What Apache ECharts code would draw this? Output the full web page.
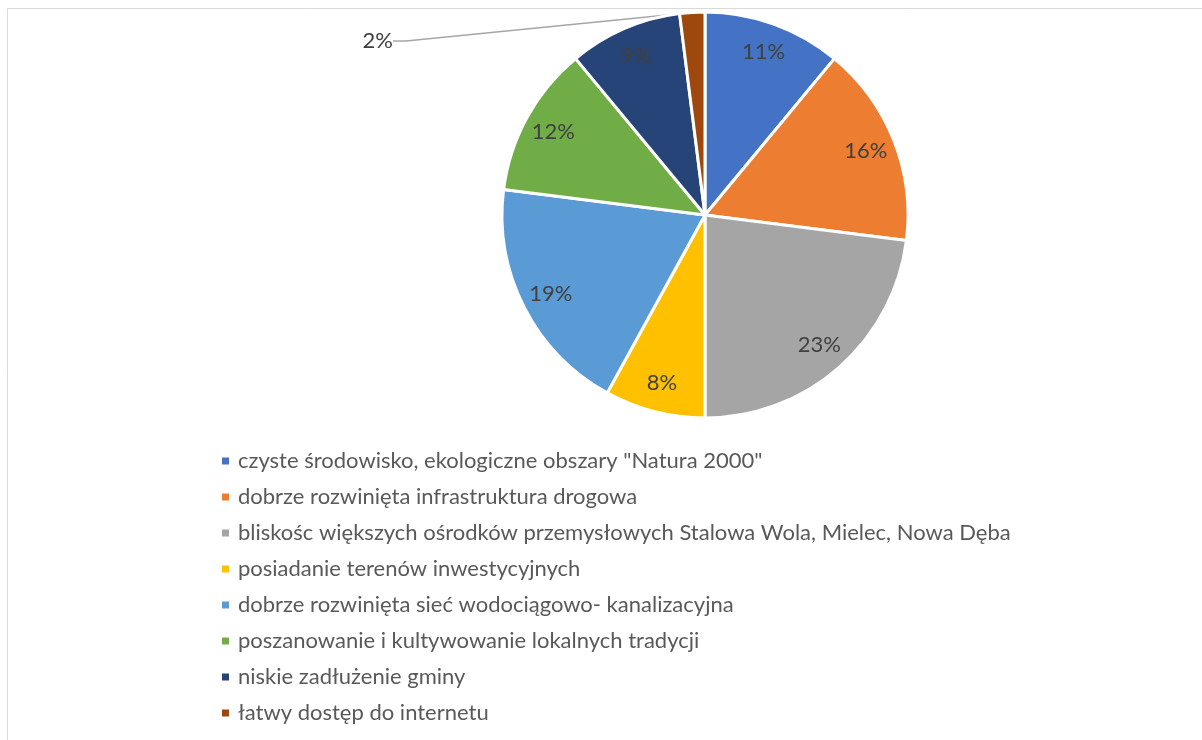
<!DOCTYPE html>
<html>
<head>
<meta charset="utf-8">
<script src="https://cdn.jsdelivr.net/npm/echarts@6/dist/echarts.min.js"></script>
<style>
  html, body { margin: 0; padding: 0; background: #ffffff; }
  #chart { width: 1202px; height: 740px; }
</style>
</head>
<body>
<div id="chart"></div>
<script>
// Atuty gminy – udział wskazań (%)
const categories = [
  'czyste środowisko, ekologiczne obszary "Natura 2000"',
  'dobrze rozwinięta infrastruktura drogowa',
  'bliskośc większych ośrodków przemysłowych Stalowa Wola, Mielec, Nowa Dęba',
  'posiadanie terenów inwestycyjnych',
  'dobrze rozwinięta sieć wodociągowo- kanalizacyjna',
  'poszanowanie i kultywowanie lokalnych tradycji',
  'niskie zadłużenie gminy',
  'łatwy dostęp do internetu'
];
const values = [11, 16, 23, 8, 19, 12, 9, 2];
const colors = ['#4472C4', '#ED7D31', '#A5A5A5', '#FFC000', '#5B9BD5', '#70AD47', '#264478', '#9E480E'];

const FONT = 'Lato, "Open Sans", sans-serif';
const chart = echarts.init(document.getElementById('chart'));

const CX = 705, CY = 215, R = 203;

const pieData = categories.map((name, i) => ({ name, value: values[i] }));
// label ring: inner labels sit at the middle of [R-66, R]
const labelData = categories.map((name, i) => {
  const item = { name, value: values[i] };
  if (values[i] < 5) {
    item.label = { position: 'outside' };
    item.labelLine = { show: true, length: 10, length2: 13, lineStyle: { color: '#a6a6a6', width: 1.5 } };
  }
  return item;
});

chart.setOption({
  animation: false,
  color: colors,
  graphic: [{
    type: 'rect',
    shape: { x: 7.5, y: 8.5, width: 1210, height: 760 },
    style: { fill: 'none', stroke: '#d9d9d9', lineWidth: 1 },
    silent: true
  }],
  legend: {
    orient: 'vertical',
    left: 220,
    top: 450,
    padding: 0,
    icon: 'rect',
    itemWidth: 9,
    itemHeight: 9,
    itemGap: 14,
    data: categories,
    textStyle: { fontFamily: FONT, fontSize: 22, color: '#595959', lineHeight: 22, padding: [0, 0, 0, 3] },
    selectedMode: false
  },
  series: [
    {
      type: 'pie',
      center: [CX, CY],
      radius: [0, R],
      startAngle: 90,
      clockwise: true,
      label: { show: false },
      labelLine: { show: false },
      itemStyle: { borderColor: '#ffffff', borderWidth: 3 },
      data: pieData,
      silent: true
    },
    {
      type: 'pie',
      center: [CX, CY],
      radius: [R - 66, R],
      startAngle: 90,
      clockwise: true,
      silent: true,
      itemStyle: { color: 'rgba(0,0,0,0)' },
      label: {
        show: true,
        position: 'inside',
        formatter: '{d}%',
        fontFamily: FONT,
        fontSize: 22,
        color: '#404040'
      },
      labelLine: { show: false },
      labelLayout: function (params) {
        if (values[params.dataIndex] < 5) {
          return { x: 393, y: 41, align: 'right', verticalAlign: 'middle' };
        }
      },
      data: labelData
    }
  ]
});
</script>
</body>
</html>
